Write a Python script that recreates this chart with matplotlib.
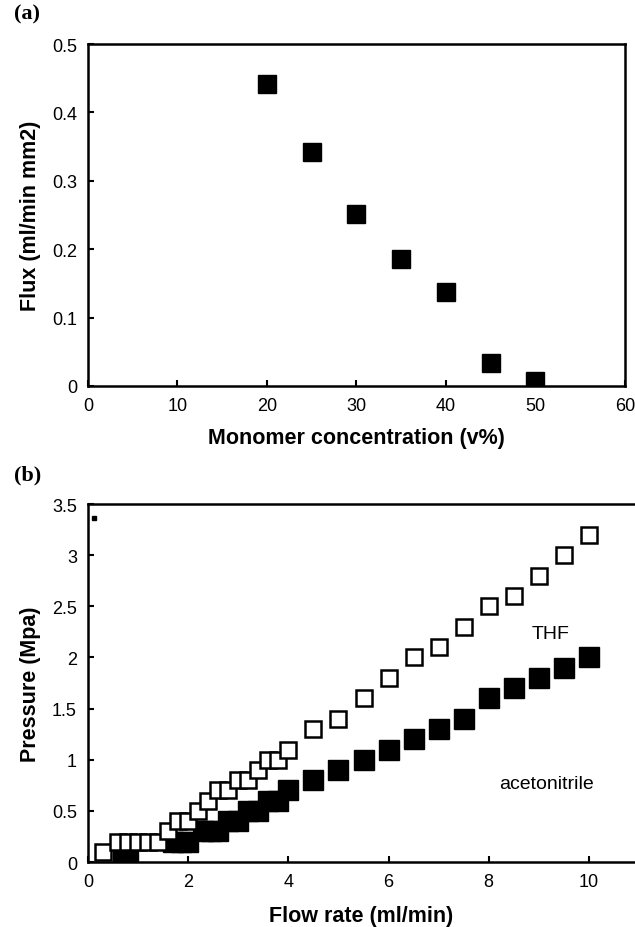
import numpy as np
import matplotlib.pyplot as plt

plt.rcParams['font.family'] = ['Liberation Sans Narrow', 'Liberation Sans', 'DejaVu Sans']

# panel (a)
conc = [20, 25, 30, 35, 40, 45, 50]
flux = [0.442, 0.342, 0.252, 0.185, 0.137, 0.034, 0.008]

# panel (b)
thf_flow = [0.3, 0.6, 0.8, 1.0, 1.2, 1.4, 1.6, 1.8, 2.0, 2.2, 2.4, 2.6, 2.8, 3.0, 3.2, 3.4,
            3.6, 3.8, 4.0, 4.5, 5.0, 5.5, 6.0, 6.5, 7.0, 7.5, 8.0, 8.5, 9.0, 9.5, 10.0]
thf_p = [0.1, 0.2, 0.2, 0.2, 0.2, 0.2, 0.3, 0.4, 0.4, 0.5, 0.6, 0.7, 0.7, 0.8, 0.8, 0.9,
         1.0, 1.0, 1.1, 1.3, 1.4, 1.6, 1.8, 2.0, 2.1, 2.3, 2.5, 2.6, 2.8, 3.0, 3.2]
acn_flow = [0.7, 0.8, 1.7, 1.85, 2.0, 2.3, 2.45, 2.6, 2.8, 3.0, 3.2, 3.4, 3.6, 3.8, 4.0,
            4.5, 5.0, 5.5, 6.0, 6.5, 7.0, 7.5, 8.0, 8.5, 9.0, 9.5, 10.0]
acn_p = [0.05, 0.05, 0.2, 0.2, 0.2, 0.3, 0.3, 0.3, 0.4, 0.4, 0.5, 0.5, 0.6, 0.6, 0.7,
         0.8, 0.9, 1.0, 1.1, 1.2, 1.3, 1.4, 1.6, 1.7, 1.8, 1.9, 2.0]
stray_x = [0.12]
stray_y = [3.36]

fig = plt.figure(figsize=(6.35, 9.28), dpi=100)

def style(ax):
    for s in ax.spines.values():
        s.set_linewidth(1.8)
    ax.tick_params(direction='in', length=4, width=1.5, labelsize=13, pad=8)

ax1 = fig.add_axes([0.1386, 0.583, 0.8454, 0.3685])
ax1.plot(conc, flux, 's', color='black', markersize=13.5)
ax1.set_xlim(0, 60)
ax1.set_ylim(0, 0.5)
ax1.set_xticks(np.arange(0, 61, 10))
ax1.set_yticks([0, 0.1, 0.2, 0.3, 0.4, 0.5])
ax1.set_yticklabels(['0', '0.1', '0.2', '0.3', '0.4', '0.5'])
style(ax1)
ax1.set_xlabel('Monomer concentration (v%)', fontsize=15.5, fontweight='bold', labelpad=9)
ax1.set_ylabel('Flux (ml/min mm2)', fontsize=15.5, fontweight='bold', labelpad=8)

ax2 = fig.add_axes([0.1386, 0.070, 0.8614, 0.3858])
ax2.plot(acn_flow, acn_p, 's', color='black', markersize=14)
ax2.plot(thf_flow, thf_p, 's', markerfacecolor='white', markeredgecolor='black',
         markersize=12, markeredgewidth=1.8)
ax2.plot(stray_x, stray_y, 's', color='black', markersize=2.5)
ax2.set_xlim(0, 10.92)
ax2.set_ylim(0, 3.5)
ax2.set_xticks([0, 2, 4, 6, 8, 10])
ax2.set_yticks([0, 0.5, 1, 1.5, 2, 2.5, 3, 3.5])
ax2.set_yticklabels(['0', '0.5', '1', '1.5', '2', '2.5', '3', '3.5'])
ax2.spines['right'].set_visible(False)
style(ax2)
ax2.text(9.23, 2.23, 'THF', fontsize=14, ha='center', va='center')
ax2.text(9.15, 0.77, 'acetonitrile', fontsize=14, ha='center', va='center')
ax2.set_xlabel('Flow rate (ml/min)', fontsize=15.5, fontweight='bold', labelpad=11)
ax2.set_ylabel('Pressure (Mpa)', fontsize=15.5, fontweight='bold', labelpad=8)

fig.text(0.022, 0.984, '(a)', fontsize=16, fontweight='bold', family='Liberation Serif', va='center')
fig.text(0.022, 0.488, '(b)', fontsize=16, fontweight='bold', family='Liberation Serif', va='center')

plt.savefig('out.png', dpi=100)
